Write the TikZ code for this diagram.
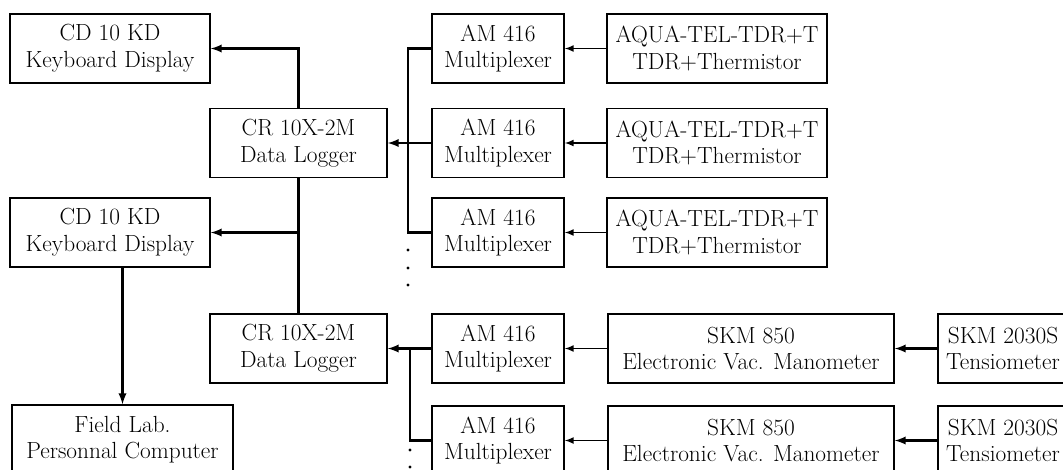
\documentclass[tikz,border=0pt]{standalone}
\usepackage{tikz}
\usetikzlibrary{arrows}
\begin{document}
\begin{tikzpicture}[x=0.75pt, y=-0.75pt,
				>=latex,   %Pfeilspitzen
				box/.style={draw, line width=1.2pt, minimum height=51.75pt, inner sep=0pt, align=center, font=\fontsize{17.5}{20}\selectfont},
				link/.style={->, line width=1.8pt},
				feed/.style={->, line width=1.3pt}]
				%Bildbereich
				\useasboundingbox (0,0) rectangle (1063,469);
				\clip (0,0) rectangle (1063,469);
				% Anzeigen und Rechner
				\node[box, minimum width=150pt] (cdA) at (110,48.5) {CD 10 KD\\Keyboard Display};
				\node[box, minimum width=150pt] (cdB) at (110,232.5) {CD 10 KD\\Keyboard Display};
				\node[box, minimum width=165.75pt] (pc) at (122.5,439.5) {Field Lab.\\Personnal Computer};
				% Datenlogger
				\node[box, minimum width=132.75pt] (logA) at (298.5,143) {CR 10X-2M\\Data Logger};
				\node[box, minimum width=132.75pt] (logB) at (298.5,348.5) {CR 10X-2M\\Data Logger};
				% Multiplexer
				\foreach \y/\n in {48.5/1,143/2,232.5/3,348.5/4,440.5/5}
					\node[box, minimum width=99pt] (mux\n) at (498,\y) {AM 416\\Multiplexer};
				% Sensoren TDR
				\foreach \y/\n in {48.5/1,143/2,232.5/3} {
					\node[box, minimum width=165pt] (aqua\n) at (717,\y) {AQUA-TEL-TDR+T\\TDR+Thermistor};
					\draw[feed] (aqua\n) -- (mux\n);
				}
				% Sensoren Tensiometer
				\foreach \y/\n in {348.5/4,440.5/5} {
					\node[box, minimum width=214.5pt] (skm\n) at (751,\y) {SKM 850\\Electronic Vac. Manometer};
					\node[box, minimum width=97.5pt] (tens\n) at (1003,\y) {SKM 2030S\\Tensiometer};
					\draw[link] (tens\n) -- (skm\n);
					\draw[feed] (skm\n) -- (mux\n);
				}
				% Leitungen
				\coordinate (busA) at (408,0);
				\coordinate (busB) at (410,0);
				\draw[line width=1.8pt] (mux1.west) -- (mux1.west -| busA) -- (mux3.west -| busA) -- (mux3.west);
				\draw[link] (mux2.west) -- (logA.east);
				\draw[line width=1.8pt] (mux4.west -| busB) -- (mux5.west -| busB) -- (mux5.west);
				\draw[link] (mux4.west) -- (logB.east);
				\draw[link] (logA.north) |- (cdA.east);
				\draw[line width=1.8pt] (logA.south) -- (logB.north);
				\draw[link] (cdB.east -| logA.south) -- (cdB.east);
				\draw[link] (cdB.south -| pc.north) -- (pc.north);
				% Punkte
				\foreach \y in {250,268,285} \fill (408,\y) circle (1.2pt);
				\foreach \y in {450,467} \fill (410,\y) circle (1.2pt);
			\end{tikzpicture}
\end{document}
